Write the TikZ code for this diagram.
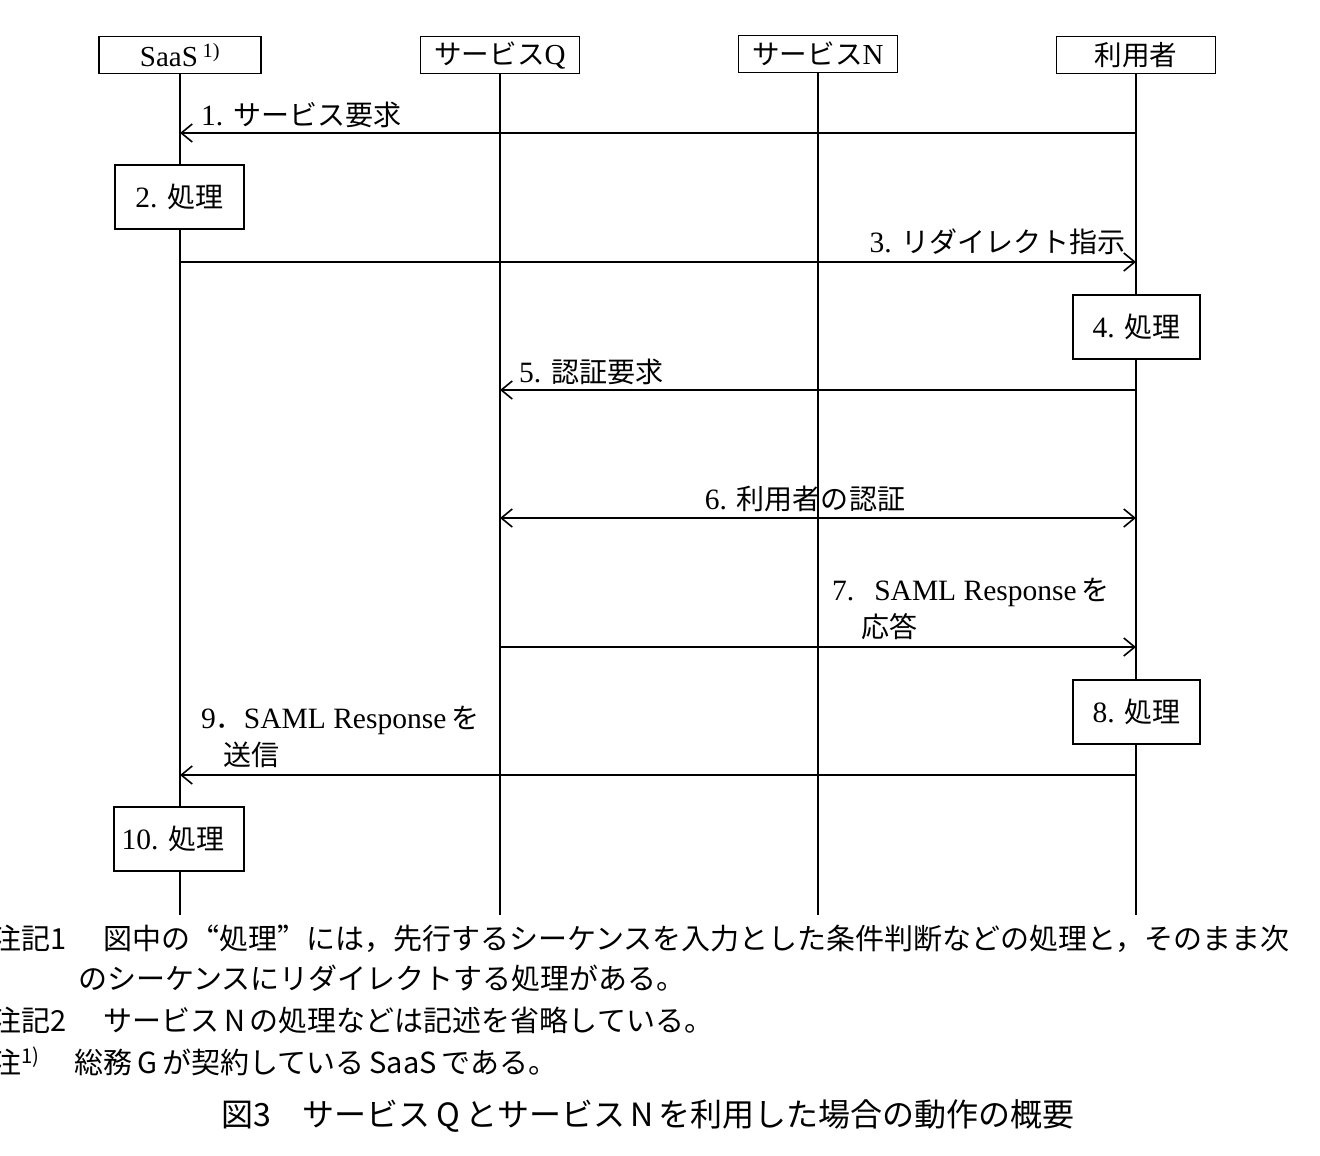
\documentclass[tikz,border=0pt]{standalone}
\usepackage{fontspec}
\setmainfont{Liberation Serif}
\newfontfamily\jp[Scale=0.95]{Noto Sans CJK JP}
\newfontfamily\jpn{Noto Sans CJK JP}
\newcommand\fwq[1]{{\addfontfeature{RawFeature=+fwid}#1}}
\usetikzlibrary{arrows.meta}
\begin{document}
\begin{tikzpicture}[x=1pt,y=-1pt,
  head/.style={draw, line width=1.6pt, minimum width=159pt, minimum height=37pt, inner sep=0pt, fill=white, font=\fontsize{29}{32}\selectfont},
  proc/.style={draw, line width=1.6pt, minimum width=128pt, minimum height=64pt, inner sep=0pt, fill=white, font=\fontsize{29.5}{34}\selectfont},
  life/.style={line width=1.5pt},
  msg/.style={line width=1.6pt, -{Straight Barb[length=11pt,width=18pt,line width=1.6pt]}},
  dmsg/.style={line width=1.6pt, {Straight Barb[length=11pt,width=18pt,line width=1.6pt]}-{Straight Barb[length=11pt,width=18pt,line width=1.6pt]}},
  lbl/.style={inner sep=0pt, font=\fontsize{29.5}{34}\selectfont},
  note/.style={inner sep=0pt, anchor=base west, font=\jpn\fontsize{29}{34}\selectfont},
  capt/.style={inner sep=0pt, anchor=base, font=\jpn\fontsize{32}{38}\selectfont}]
\useasboundingbox (0,0) rectangle (1320,1156);
\fill[white] (0,0) rectangle (1320,1156);

% headers
\node[head, minimum width=162pt] (hS) at (180,55) {SaaS\,\textsuperscript{1)}};
\node[head] (hQ) at (500,55) {{\jp サービス}Q};
\node[head] (hN) at (818,54) {{\jp サービス}N};
\node[head] (hU) at (1136,55) {{\jp 利用者}};

% lifeline ends
\coordinate (eS) at (180,915);
\coordinate (eQ) at (500,915);
\coordinate (eN) at (818,915);
\coordinate (eU) at (1136,915);
\draw[life] (hS) -- (eS);
\draw[life] (hQ) -- (eQ);
\draw[life] (hN) -- (eN);
\draw[life] (hU) -- (eU);

% message points
\coordinate (u1) at (1136,133); \coordinate (s1) at (180,133);
\coordinate (s3) at (180,262);  \coordinate (u3) at (1136,262);
\coordinate (u5) at (1136,390); \coordinate (q5) at (500,390);
\coordinate (q6) at (500,518);  \coordinate (u6) at (1136,518);
\coordinate (q7) at (500,647);  \coordinate (u7) at (1136,647);
\coordinate (u9) at (1136,775); \coordinate (s9) at (180,775);

\draw[msg] (u1) -- (s1);
\draw[msg] (s3) -- (u3);
\draw[msg] (u5) -- (q5);
\draw[dmsg] (q6) -- (u6);
\draw[msg] (q7) -- (u7);
\draw[msg] (u9) -- (s9);

% processing boxes
\node[proc, minimum width=129pt] (p2) at (179.5,197) {2. {\jp 処理}};
\node[proc, minimum width=127pt] (p4) at (1136.5,327) {4. {\jp 処理}};
\node[proc, minimum width=127pt] (p8) at (1136.5,712) {8. {\jp 処理}};
\node[proc, minimum width=130pt] (p10) at (179,839) {10. {\jp 処理}\kern12pt};

% labels
\node[lbl, anchor=base west] (l1) at (201,125) {1. {\jp サービス要求}};
\node[lbl, anchor=base east] (l3) at (1126,252) {3. {\jp リダイレクト指示}};
\node[lbl, anchor=base west] (l5) at (519,382) {5. {\jp 認証要求}};
\node[lbl, anchor=base] (l6) at (805,509) {6. {\jp 利用者の認証}};
\node[lbl, anchor=base west] (l7a) at (832,600) {7.\hspace{20pt}SAML Response\,{\jp を}};
\node[lbl, anchor=base west] (l7b) at (861,637) {{\jp 応答}};
\node[lbl, anchor=base west] (l9a) at (201,728) {9{\jp ．}SAML Response\,{\jp を}};
\node[lbl, anchor=base west] (l9b) at (223,765) {{\jp 送信}};

% notes
\node[note] (n1a) at (-8,949) {注記1\hspace{8pt}　図中の\fwq{“}処理\fwq{”}には，先行するシーケンスを入力とした条件判断などの処理と，そのまま次};
\node[note] (n1b) at (78,989) {のシーケンスにリダイレクトする処理がある。};
\node[note] (n2) at (-8,1031) {注記2\hspace{8pt}　サービス\,N\,の処理などは記述を省略している。};
\node[note] (n3) at (-8,1073) {注\textsuperscript{1)}\hspace{6pt}　総務\,G\,が契約している\,SaaS\,である。};
\node[capt] (cap) at (648,1126) {図3　サービス\,Q\,とサービス\,N\,を利用した場合の動作の概要};
\end{tikzpicture}
\end{document}
